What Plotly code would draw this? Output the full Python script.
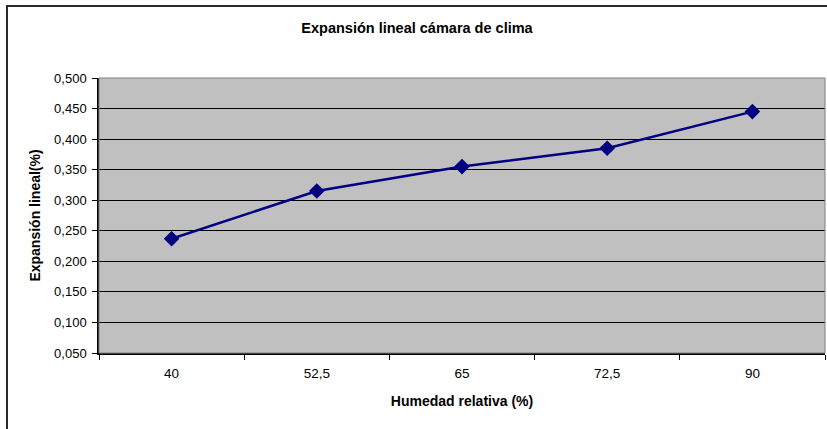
import plotly.graph_objects as go

humedad = ["40", "52,5", "65", "72,5", "90"]
expansion = [0.237, 0.315, 0.355, 0.385, 0.445]
y_ticks = [0.05, 0.10, 0.15, 0.20, 0.25, 0.30, 0.35, 0.40, 0.45, 0.50]

W, H = 827, 429
L, R, T, B = 99, 2, 78, 76
pw, ph = W - L - R, H - T - B

FONT = "Liberation Sans, Arial, sans-serif"

fig = go.Figure()
fig.add_trace(go.Scatter(
    x=humedad, y=expansion, mode="lines+markers",
    line=dict(color="#000080", width=2.5),
    marker=dict(symbol="diamond", size=12, color="#000080"),
    showlegend=False, cliponaxis=False,
))

def px_x(p):
    return (p - L) / pw

def px_y(p):
    return (H - B - p) / ph

fig.update_layout(
    width=W, height=H,
    margin=dict(l=L, r=R, t=T, b=B),
    paper_bgcolor="white",
    plot_bgcolor="#C0C0C0",
    separators=",.",
    font=dict(family=FONT, size=13, color="black"),
    title=dict(text="<b>Expansión lineal cámara de clima</b>",
               xref="container", yref="container",
               x=417 / W, y=1 - 28 / H, xanchor="center", yanchor="middle",
               font=dict(family=FONT, size=14.5, color="black")),
    xaxis=dict(type="category", categoryorder="array", categoryarray=humedad,
               range=[-0.5, 4.5],
               showgrid=False, showline=True, linecolor="black", linewidth=1.5,
               ticks="outside", tickson="boundaries", ticklen=5, tickcolor="black",
               ticklabelstandoff=7,
               tickfont=dict(family=FONT, size=13.5),
               title=dict(text="<b>Humedad relativa (%)</b>", standoff=16,
                          font=dict(family=FONT, size=14))),
    yaxis=dict(range=[0.05, 0.5], tickvals=y_ticks, tickformat=".3f",
               showgrid=True, gridcolor="black", gridwidth=1,
               showline=True, linecolor="black", linewidth=1.5,
               ticks="outside", ticklen=5, tickcolor="black",
               ticklabelstandoff=3,
               tickfont=dict(family=FONT, size=13),
               zeroline=False,
               title=dict(text="<b>Expansión lineal(%)</b>", standoff=10,
                          font=dict(family=FONT, size=14))),
    shapes=[
        dict(type="rect", xref="paper", yref="paper", x0=0, x1=1, y0=0, y1=1,
             line=dict(color="#808080", width=1), layer="above"),
        dict(type="rect", xref="paper", yref="paper",
             x0=px_x(7), x1=px_x(W + 5), y0=px_y(H + 5), y1=px_y(6),
             line=dict(color="#2a2a2a", width=2), layer="above"),
    ],
)

fig.write_html("out.html", config={"displayModeBar": False},
               post_script="document.body.style.margin='0';")
